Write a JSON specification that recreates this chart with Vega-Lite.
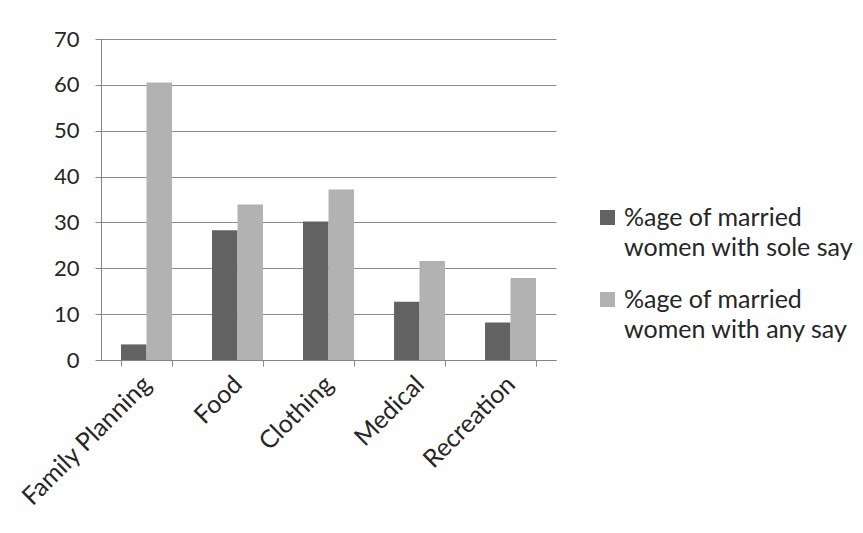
{
  "$schema": "https://vega.github.io/schema/vega-lite/v6.json",
  "width": 455,
  "height": 321,
  "autosize": "none",
  "padding": {"left": 101, "top": 39, "right": 307, "bottom": 173},
  "background": "white",
  "data": {
    "values": [
      {"category": "Family Planning", "series": "%age of married women with sole say", "value": 3.4},
      {"category": "Family Planning", "series": "%age of married women with any say", "value": 60.5},
      {"category": "Food", "series": "%age of married women with sole say", "value": 28.3},
      {"category": "Food", "series": "%age of married women with any say", "value": 33.9},
      {"category": "Clothing", "series": "%age of married women with sole say", "value": 30.2},
      {"category": "Clothing", "series": "%age of married women with any say", "value": 37.2},
      {"category": "Medical", "series": "%age of married women with sole say", "value": 12.7},
      {"category": "Medical", "series": "%age of married women with any say", "value": 21.6},
      {"category": "Recreation", "series": "%age of married women with sole say", "value": 8.2},
      {"category": "Recreation", "series": "%age of married women with any say", "value": 17.9}
    ]
  },
  "mark": {"type": "bar"},
  "encoding": {
    "x": {
      "field": "category",
      "type": "nominal",
      "sort": null,
      "scale": {"paddingInner": 0.44, "paddingOuter": 0.22},
      "axis": {
        "title": null,
        "labelAngle": -45,
        "labelAlign": "right",
        "labelBaseline": "middle",
        "labelFontSize": 25,
        "tickBand": "extent",
        "tickSize": 6,
        "tickColor": "#868686",
        "domainColor": "#868686",
        "labelPadding": 14,
        "grid": false
      }
    },
    "xOffset": {
      "field": "series",
      "sort": ["%age of married women with sole say", "%age of married women with any say"]
    },
    "y": {
      "field": "value",
      "type": "quantitative",
      "scale": {"domain": [0, 70], "nice": false},
      "axis": {
        "title": null,
        "values": [0, 10, 20, 30, 40, 50, 60, 70],
        "grid": true,
        "gridColor": "#8c8c8c",
        "tickSize": 6,
        "tickColor": "#868686",
        "domainColor": "#868686",
        "labelPadding": 16,
        "labelFontSize": 22
      }
    },
    "color": {
      "field": "series",
      "type": "nominal",
      "sort": ["%age of married women with sole say", "%age of married women with any say"],
      "scale": {"range": ["#626262", "#b2b2b2"]},
      "legend": {
        "title": null,
        "orient": "none",
        "legendX": 494,
        "legendY": 166,
        "symbolType": "square",
        "symbolSize": 225,
        "symbolStrokeWidth": 0,
        "labelLimit": 400,
        "labelOffset": 4,
        "labelBaseline": "middle",
        "rowPadding": 26,
        "labelFontSize": 25,
        "labelExpr": "['%age of married', replace(datum.label, '%age of married ', '')]"
      }
    }
  },
  "config": {
    "font": "Lato",
    "axis": {"labelFont": "Lato", "labelColor": "#262626"},
    "legend": {"labelFont": "Lato", "labelColor": "#262626"},
    "style": {"guide-label": {"lineHeight": 30}},
    "view": {"stroke": null}
  }
}
